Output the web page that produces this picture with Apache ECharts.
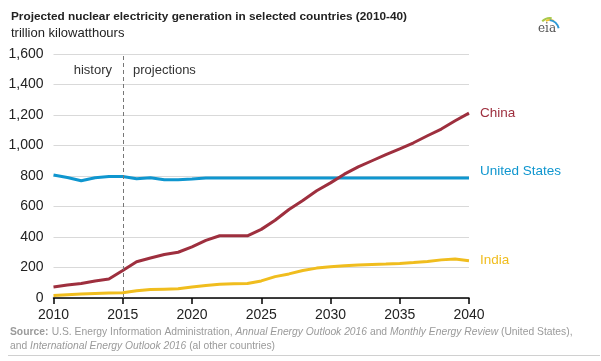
<!DOCTYPE html>
<html><head><meta charset="utf-8">
<script src="https://cdn.jsdelivr.net/npm/echarts@6/dist/echarts.min.js"></script>
<style>html,body{margin:0;padding:0;background:#fff}#c{width:601px;height:361px}</style>
</head><body><div id="c"></div>
<script>
const years = [2010,2011,2012,2013,2014,2015,2016,2017,2018,2019,2020,2021,2022,2023,2024,2025,2026,2027,2028,2029,2030,2031,2032,2033,2034,2035,2036,2037,2038,2039,2040];
const china = [72,85,95,112,124,180,238,262,285,300,335,378,408,408,408,450,510,580,640,703,755,812,860,900,940,978,1018,1064,1108,1162,1212];
const unitedStates = [807,790,769,789,797,797,782,789,776,775,780,787,787,787,787,787,787,787,787,787,787,787,787,787,787,787,787,787,787,787,787];
const india = [17,22,26,30,33,35,47,55,58,60,72,82,90,93,95,112,140,158,180,196,205,212,216,220,223,227,233,240,250,255,245];
const seriesNames = ['China','United States','India'];
const projectionStart = 2015;
const yTicks = [0,200,400,600,800,1000,1200,1400,1600];

const font = 'Liberation Sans, Arial, sans-serif';
const colors = ['#9e2f3e','#0f96cf','#f0bd1e'];
const pairs = arr => years.map((y,i)=>[y,arr[i]]);

const chart = echarts.init(document.getElementById('c'));
function mkSeries(name, data, color, offset, extra){
  return Object.assign({
    name, type:'line', data:pairs(data), symbol:'none', smooth:false,
    lineStyle:{color, width:3}, itemStyle:{color},
    endLabel:{show:true, formatter:name, color, fontFamily:font, fontSize:13.5, distance:11, offset},
    animation:false, z:3
  }, extra||{});
}
chart.setOption({
  animation:false,
  grid:{left:53.5, right:132, top:54, bottom:63},
  xAxis:{type:'value', min:2010, max:2040, interval:5,
    axisLine:{show:true, lineStyle:{color:'#000', width:1.5}},
    axisTick:{show:true, length:6, inside:false, lineStyle:{color:'#000', width:1.5}},
    axisLabel:{color:'#222', fontFamily:font, fontSize:14, margin:10, formatter:v=>String(v)},
    splitLine:{show:false}},
  yAxis:{type:'value', min:yTicks[0], max:yTicks[yTicks.length-1], interval:200,
    axisLine:{show:false}, axisTick:{show:false},
    axisLabel:{color:'#222', fontFamily:font, fontSize:14, margin:10, formatter:v=>v.toLocaleString('en-US')},
    splitLine:{lineStyle:{color:'#d9d9d9', width:1}}},
  series:[
    mkSeries(seriesNames[1], unitedStates, colors[1], [0,-7], {
      markLine:{silent:true, symbol:'none', label:{show:false},
        lineStyle:{color:'#777', type:[4,3], width:1},
        data:[{xAxis:projectionStart}]}
    }),
    mkSeries(seriesNames[0], china, colors[0], [0,0]),
    mkSeries(seriesNames[2], india, colors[2], [0,0])
  ],
  graphic:[
    {type:'text', left:11, top:11, style:{text:'Projected nuclear electricity generation in selected countries (2010-40)', font:'bold 11.8px '+font, fill:'#222'}},
    {type:'text', left:11, top:27, style:{text:'trillion kilowatthours', font:'13px '+font, fill:'#222'}},
    {type:'text', x:112, y:70, style:{text:'history', font:'13px '+font, fill:'#333', align:'right', verticalAlign:'middle'}},
    {type:'text', x:133, y:70, style:{text:'projections', font:'13px '+font, fill:'#333', align:'left', verticalAlign:'middle'}},
    {type:'text', left:10, top:325, style:{
      rich:{b:{font:'bold 10.3px '+font, fill:'#9a9a9a'}, n:{font:'10.3px '+font, fill:'#9a9a9a'}, i:{font:'italic 10.3px '+font, fill:'#9a9a9a'}},
      text:'{b|Source:} {n|U.S. Energy Information Administration, }{i|Annual Energy Outlook 2016}{n| and }{i|Monthly Energy Review}{n| (United States),}\n{n|and }{i|International Energy Outlook 2016}{n| (al other countries)}',
      lineHeight:14}},
    {type:'line', shape:{x1:8, y1:355.5, x2:600, y2:355.5}, style:{stroke:'#d0d0d0', lineWidth:1}},
    {type:'text', x:547, y:35, style:{text:'eia', font:'12px DejaVu Serif, serif', fill:'#555', align:'center', verticalAlign:'bottom'}},
    {type:'arc', shape:{cx:550, cy:29, r:11, startAngle:-Math.PI*0.75, endAngle:-Math.PI*0.45}, style:{stroke:'#a8c94a', lineWidth:2, fill:null}},
    {type:'arc', shape:{cx:550, cy:29, r:9, startAngle:-Math.PI*0.65, endAngle:-Math.PI*0.35}, style:{stroke:'#f2c230', lineWidth:1.8, fill:null}},
    {type:'arc', shape:{cx:548, cy:31, r:11, startAngle:-Math.PI*0.45, endAngle:-Math.PI*0.08}, style:{stroke:'#2e9ad6', lineWidth:2, fill:null}}
  ]
});
</script></body></html>
